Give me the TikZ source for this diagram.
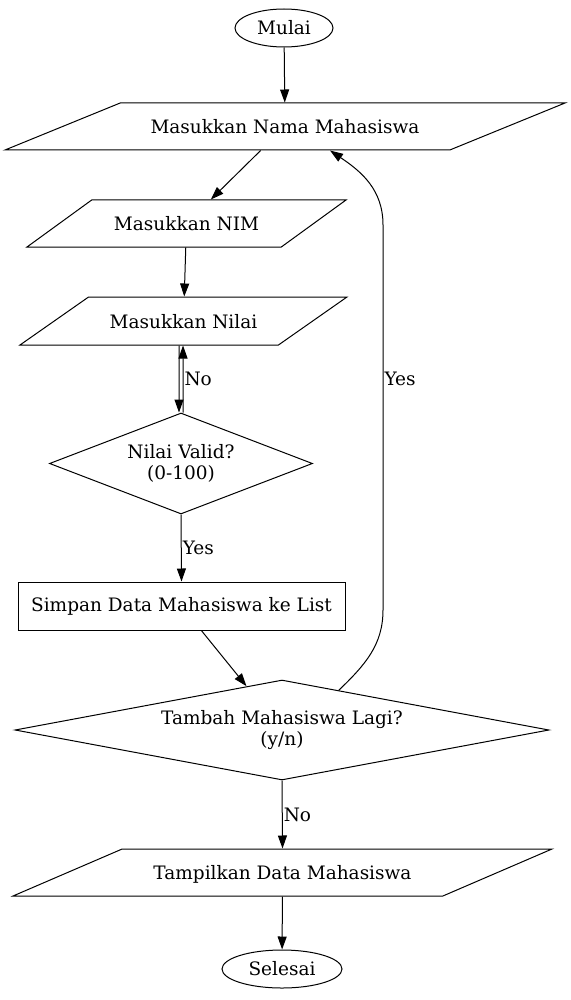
\documentclass[tikz,border=0pt]{standalone}
\usepackage{fontspec}
\setmainfont{DejaVu Serif}
\usetikzlibrary{shapes.geometric,arrows.meta}
\begin{document}
\begin{tikzpicture}[x=1pt,y=1pt,
  every node/.style={font=\fontsize{18.5}{21}\selectfont},
  base/.style={draw,line width=1pt,inner sep=0pt,align=center},
  term/.style={base,ellipse,minimum height=38pt},
  io/.style={base,trapezium,trapezium stretches body=true,text height=15.5pt,text depth=1.5pt,inner ysep=15pt},
  dec/.style={base,diamond},
  proc/.style={base,rectangle,minimum width=327pt,minimum height=48pt},
  arr/.style={line width=1pt,-{Triangle[length=13pt,width=9pt]}},
  lbl/.style={font=\fontsize{18.5}{21}\selectfont,inner sep=1pt,anchor=west}]
\useasboundingbox (0,0) rectangle (570,-1000);
\node[term,minimum width=98pt] (mulai) at (284,-28) {Mulai};
\node[io,minimum width=560pt,trapezium left angle=22.2,trapezium right angle=157.8] (nama) at (285,-126.5) {Masukkan Nama Mahasiswa};
\node[io,minimum width=319pt,trapezium left angle=36,trapezium right angle=144] (nim) at (186.5,-223.5) {Masukkan NIM};
\node[io,minimum width=327pt,inner ysep=15.5pt,trapezium left angle=35,trapezium right angle=145] (nilai) at (183.5,-321) {Masukkan Nilai};
\node[dec,shape aspect=2.6,minimum width=263pt,minimum height=101pt] (valid) at (181,-463.5) {Nilai Valid?\\(0-100)};
\node[proc] (simpan) at (181.5,-606) {Simpan Data Mahasiswa ke List};
\node[dec,shape aspect=5.34,minimum width=534pt,minimum height=100pt] (tambah) at (282,-730) {Tambah Mahasiswa Lagi?\\(y/n)};
\node[io,minimum width=539pt,trapezium left angle=23.3,trapezium right angle=156.7] (tampil) at (282.5,-872.5) {Tampilkan Data Mahasiswa};
\node[term,minimum width=120pt] (selesai) at (282,-969) {Selesai};

\draw[arr] (mulai) -- (nama);
\draw[arr] (nama) -- (nim);
\draw[arr] (nim) -- (nilai);
\draw[arr] ([xshift=-4.5pt]nilai.south) -- ([xshift=-2pt]valid.north);
\draw[arr] ([xshift=2pt]valid.north) -- node[lbl,pos=0.5] (lno1) {No} ([xshift=-0.5pt]nilai.south);
\draw[arr] (valid.south) -- node[lbl,pos=0.5] (lyes1) {Yes} (simpan.north);
\draw[arr] (simpan) -- (tambah);
\draw[arr] (tambah.35.5) .. controls (365,-665) and (383,-645) .. (383,-610)
  -- node[lbl,pos=0.6] (lyes2) {Yes} (383,-225) .. controls (383,-190) and (362,-172) .. ([xshift=45pt]nama.south);
\draw[arr] (tambah.south) -- node[lbl,pos=0.5] (lno2) {No} (tampil.north);
\draw[arr] (tampil) -- (selesai);
\end{tikzpicture}
\end{document}
